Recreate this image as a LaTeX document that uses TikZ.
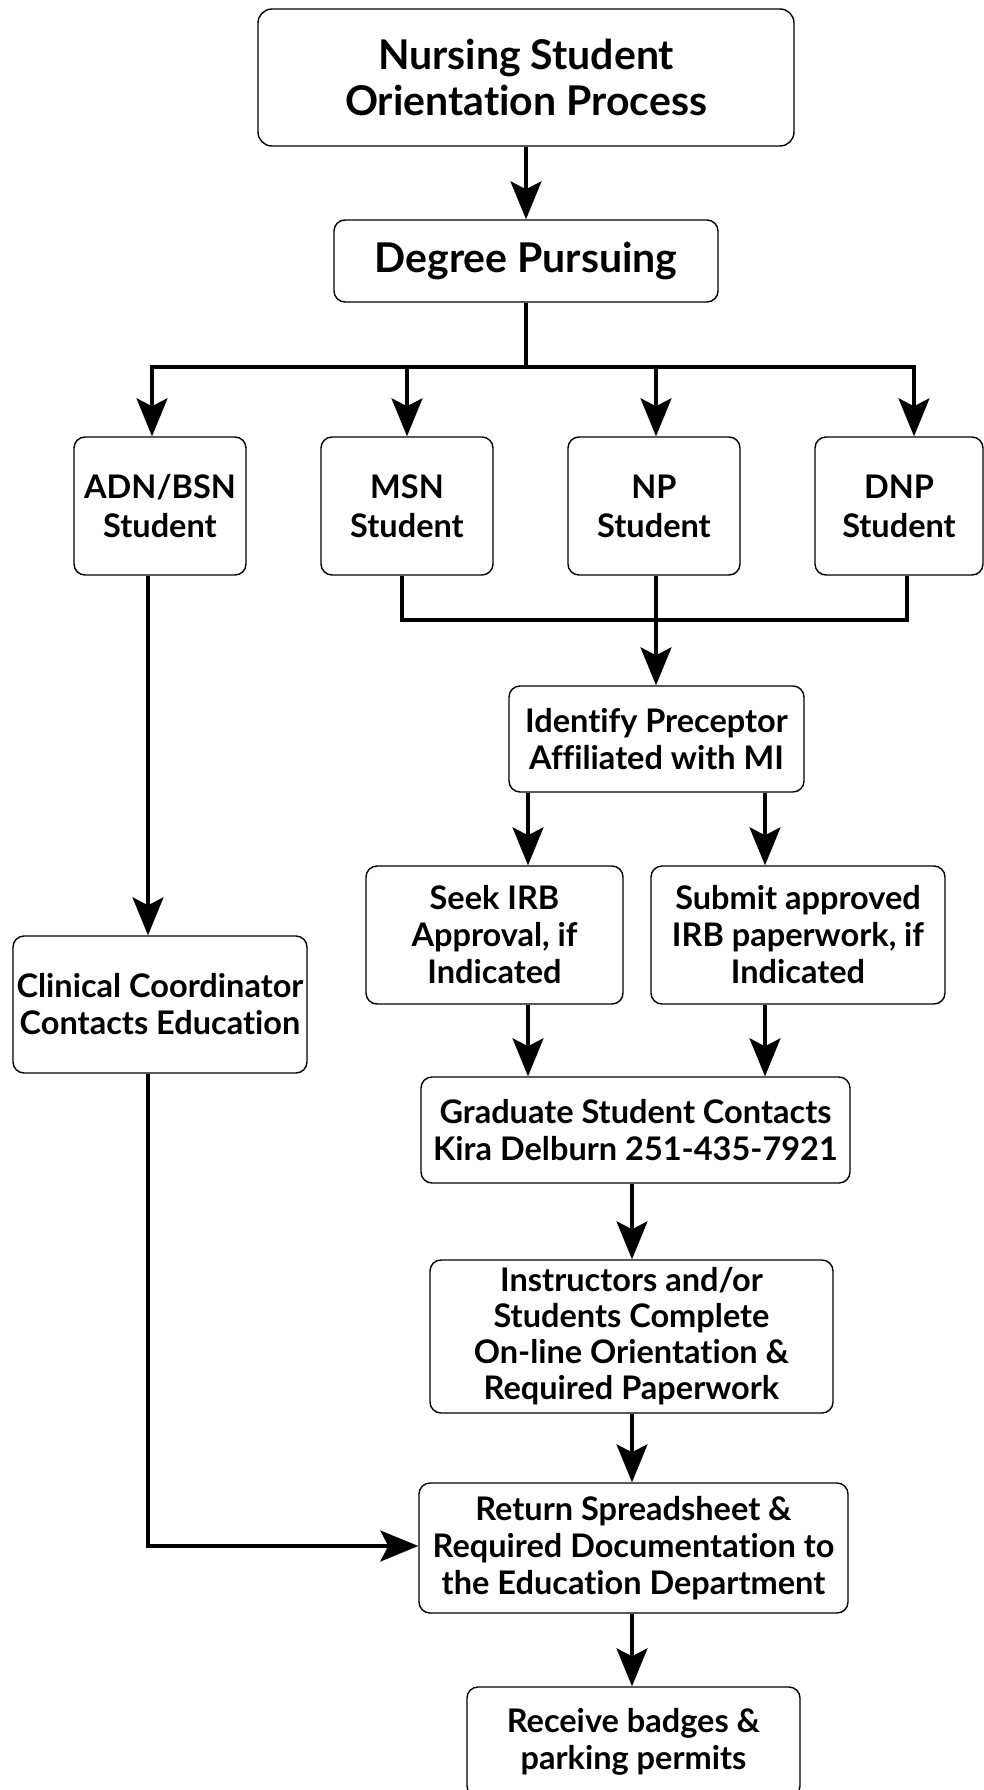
\documentclass[tikz,border=0pt]{standalone}
\usepackage{fontspec}
\setmainfont{Lato}[Ligatures=NoCommon]
\usetikzlibrary{arrows.meta}
\tikzset{
  box/.style={draw, line width=1.4pt, rounded corners=11pt, align=center, inner sep=0pt, font=\fontsize{32.5}{37}\selectfont\bfseries},
  wire/.style={line width=3.2pt},
  arr/.style={line width=3.2pt, -{Stealth[length=38pt, width=31pt, inset=8pt]}}
}
\begin{document}
\begin{tikzpicture}[x=1pt, y=-1pt]
\useasboundingbox (0,0) rectangle (984,1790);
\node[box, minimum width=536pt, minimum height=137pt, rounded corners=14pt, font=\fontsize{41}{46}\selectfont\bfseries] (title) at (526,77.5) {Nursing Student\\Orientation Process};
\node[box, minimum width=384pt, minimum height=82pt, font=\fontsize{41}{46}\selectfont\bfseries] (degree) at (526,261) {Degree Pursuing};
\node[box, minimum width=172pt, minimum height=138pt, font=\fontsize{32.5}{39}\selectfont\bfseries] (adn) at (160,506) {ADN/BSN\\Student};
\node[box, minimum width=172pt, minimum height=138pt, font=\fontsize{32.5}{39}\selectfont\bfseries] (msn) at (407,506) {MSN\\Student};
\node[box, minimum width=172pt, minimum height=138pt, font=\fontsize{32.5}{39}\selectfont\bfseries] (np) at (654,506) {NP\\Student};
\node[box, minimum width=168pt, minimum height=138pt, font=\fontsize{32.5}{39}\selectfont\bfseries] (dnp) at (899,506) {DNP\\Student};
\node[box, minimum width=295pt, minimum height=106pt] (ident) at (656.5,739) {Identify Preceptor\\Affiliated with MI};
\node[box, minimum width=257pt, minimum height=138pt] (seek) at (494.5,935) {Seek IRB\\Approval, if\\Indicated};
\node[box, minimum width=294pt, minimum height=138pt] (submit) at (798,935) {Submit approved\\IRB paperwork, if\\Indicated};
\node[box, minimum width=294pt, minimum height=137pt] (clin) at (160,1004.5) {Clinical Coordinator\\Contacts Education};
\node[box, minimum width=429pt, minimum height=106pt] (grad) at (635.5,1130) {Graduate Student Contacts\\Kira Delburn 251-435-7921};
\node[box, minimum width=403pt, minimum height=153pt, font=\fontsize{32.5}{36}\selectfont\bfseries] (instr) at (631.5,1336.5) {Instructors and/or\\Students Complete\\On-line Orientation \&\\Required Paperwork};
\node[box, minimum width=429pt, minimum height=130pt] (ret) at (633.5,1548) {Return Spreadsheet \&\\Required Documentation to\\the Education Department};
\node[box, minimum width=333pt, minimum height=110pt] (recv) at (633.5,1742) {Receive badges \&\\parking permits};
% coordinates
\coordinate (bus) at (526,367);
\coordinate (b1) at (152,367);
\coordinate (b2) at (407,367);
\coordinate (b3) at (656,367);
\coordinate (b4) at (914,367);
\coordinate (m1) at (402,620);
\coordinate (m3) at (907,620);
\coordinate (c1) at (528,0);
\coordinate (c2) at (765,0);
\coordinate (lc) at (148,0);
\coordinate (mc) at (632,0);
\coordinate (turn) at (148,1546);
% connectors
\draw[arr] (title.south) -- (degree.north);
\draw[wire] (degree.south) -- (bus);
\draw[wire] ([xshift=-1.6pt]b1) -- ([xshift=1.6pt]b4);
\draw[arr] (b1) -- (b1 |- adn.north);
\draw[arr] (b2) -- (b2 |- msn.north);
\draw[arr] (b3) -- (b3 |- np.north);
\draw[arr] (b4) -- (b4 |- dnp.north);
\draw[wire] (m1 |- msn.south) -- (m1) -- (m3) -- (m3 |- dnp.south);
\draw[arr] (b3 |- np.south) -- (b3 |- ident.north);
\draw[arr] (c1 |- ident.south) -- (c1 |- seek.north);
\draw[arr] (c2 |- ident.south) -- (c2 |- submit.north);
\draw[arr] (c1 |- seek.south) -- (c1 |- grad.north);
\draw[arr] (c2 |- submit.south) -- (c2 |- grad.north);
\draw[arr] (lc |- adn.south) -- (lc |- clin.north);
\draw[arr] (lc |- clin.south) -- (turn) -- (turn -| ret.west);
\draw[arr] (mc |- grad.south) -- (mc |- instr.north);
\draw[arr] (mc |- instr.south) -- (mc |- ret.north);
\draw[arr] (mc |- ret.south) -- (mc |- recv.north);
\end{tikzpicture}
\end{document}
